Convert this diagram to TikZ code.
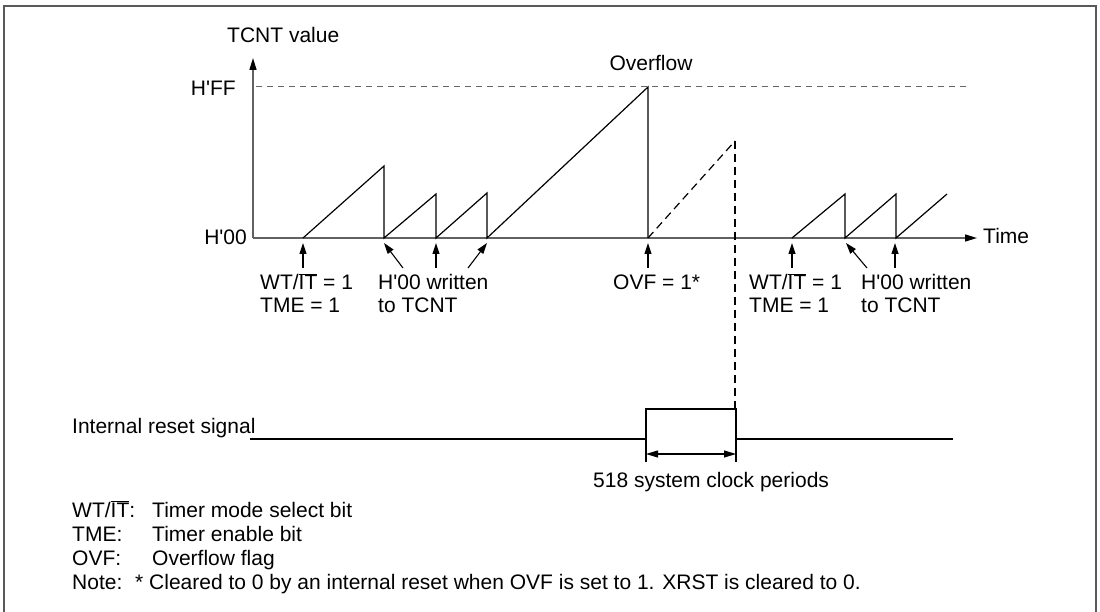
\documentclass[tikz,border=0pt]{standalone}
\usepackage{fontspec}
\setmainfont{Liberation Sans}
\usetikzlibrary{arrows.meta}
\newcommand{\ap}{\textquotesingle}
\begin{document}
\begin{tikzpicture}[x=1pt,y=-1pt,
  txt/.style={inner sep=0pt, anchor=base west, font=\fontsize{21}{24}\selectfont},
  txtr/.style={txt, anchor=base east},
  txtc/.style={txt, anchor=base},
  axisline/.style={draw=black!62, line width=1.5pt},
  axisarrow/.style={axisline, -{Triangle[length=12pt,width=7pt,color=black]}},
  saw/.style={draw=black, line width=1.2pt},
  sawdash/.style={saw, dash pattern=on 8pt off 5pt},
  ptr/.style={draw=black, line width=1.1pt, -{Triangle[length=11pt,width=7pt]}},
  dimarrow/.style={draw=black, line width=1.1pt, {Triangle[length=12pt,width=7pt]}-{Triangle[length=12pt,width=7pt]}},
  frameline/.style={draw=black!65, line width=1.5pt},
  ]
\useasboundingbox (0,0) rectangle (1100,612);
% frame
\draw[frameline] (4,614) -- (4,6) -- (1096,6) -- (1096,614);

% axes
\coordinate (O) at (253,238);
\coordinate (ytop) at (253,58);
\coordinate (xend) at (977,238);
\draw[axisarrow] (O) -- (ytop);
\draw[axisarrow] (O) -- (xend);
\node[txt] (tcnt) at (227,43) {TCNT value};
\node[txt] (time) at (983,244) {Time};
\node[txtr] (hff) at (236,96) {H\ap FF};
\node[txtr] (h00) at (247,245) {H\ap 00};
\node[txtc] (ovfl) at (651,71) {Overflow};

% H'FF dashed level
\coordinate (ffa) at (256,87);
\coordinate (ffb) at (967,87);
\draw[draw=black!60, line width=1pt, dash pattern=on 6pt off 5pt] (ffa) -- (ffb);

% sawtooth
\draw[saw] (303,238) -- (384,166) -- (384,238) -- (436,194) -- (436,238)
  -- (487,193) -- (487,238) -- (648,87) -- (648,238);
\draw[sawdash] (648,238) -- (735,141);
\draw[sawdash] (735,141) -- (735,409);
\draw[saw] (792,238) -- (845,194) -- (845,238) -- (896,194) -- (896,238) -- (947,194);

% pointer arrows
\coordinate (t1) at (303,243); \coordinate (s1) at (303,268);
\coordinate (t2) at (384,243); \coordinate (s2) at (403,268);
\coordinate (t3) at (436,243); \coordinate (s3) at (436,268);
\coordinate (t4) at (487,243); \coordinate (s4) at (468,268);
\coordinate (t5) at (648,243); \coordinate (s5) at (648,268);
\coordinate (t6) at (792,243); \coordinate (s6) at (792,268);
\coordinate (t7) at (846,243); \coordinate (s7) at (867,268);
\coordinate (t8) at (895,243); \coordinate (s8) at (895,268);
\foreach \i in {1,...,8} { \draw[ptr] (s\i) -- (t\i); }

% labels under axis
\node[txt] (wt1) at (260,290) {WT/$\overline{\mbox{IT}}$ = 1};
\node[txt] (tme1) at (260,312.5) {TME = 1};
\node[txt] (wr1) at (378,290) {H\ap 00 written};
\node[txt] (to1) at (378,312.5) {to TCNT};
\node[txt] (ovf) at (613,290) {OVF = 1*};
\node[txt] (wt2) at (749,290) {WT/$\overline{\mbox{IT}}$ = 1};
\node[txt] (tme2) at (749,312.5) {TME = 1};
\node[txt] (wr2) at (861,290) {H\ap 00 written};
\node[txt] (to2) at (861,312.5) {to TCNT};

% internal reset signal
\node[txt] (irs) at (72,433) {Internal reset signal};
\draw[saw] (250,439) -- (646,439) -- (646,409) -- (736,409) -- (736,439) -- (953,439);
\coordinate (ka) at (646,439); \coordinate (kb) at (646,462);
\coordinate (kc) at (736,439); \coordinate (kd) at (736,462);
\draw[saw] (ka) -- (kb);
\draw[saw] (kc) -- (kd);
\coordinate (da) at (646,454); \coordinate (db) at (736,454);
\draw[dimarrow] (da) -- (db);
\node[txt] (scp) at (593,487) {518 system clock periods};

% legend
\node[txt] (l1) at (72,517) {WT/$\overline{\mbox{IT}}$:};
\node[txt] (l1t) at (152,517) {Timer mode select bit};
\node[txt] (l2) at (72,541) {TME:};
\node[txt] (l2t) at (152,541) {Timer enable bit};
\node[txt] (l3) at (72,565) {OVF:};
\node[txt] (l3t) at (152,565) {Overflow flag};
\node[txt] (l4) at (72,589) {Note:};
\node[txt] (l4t) at (135,589) {* Cleared to 0 by an internal reset when OVF is set to 1. XRST is cleared to 0.};
\end{tikzpicture}
\end{document}
